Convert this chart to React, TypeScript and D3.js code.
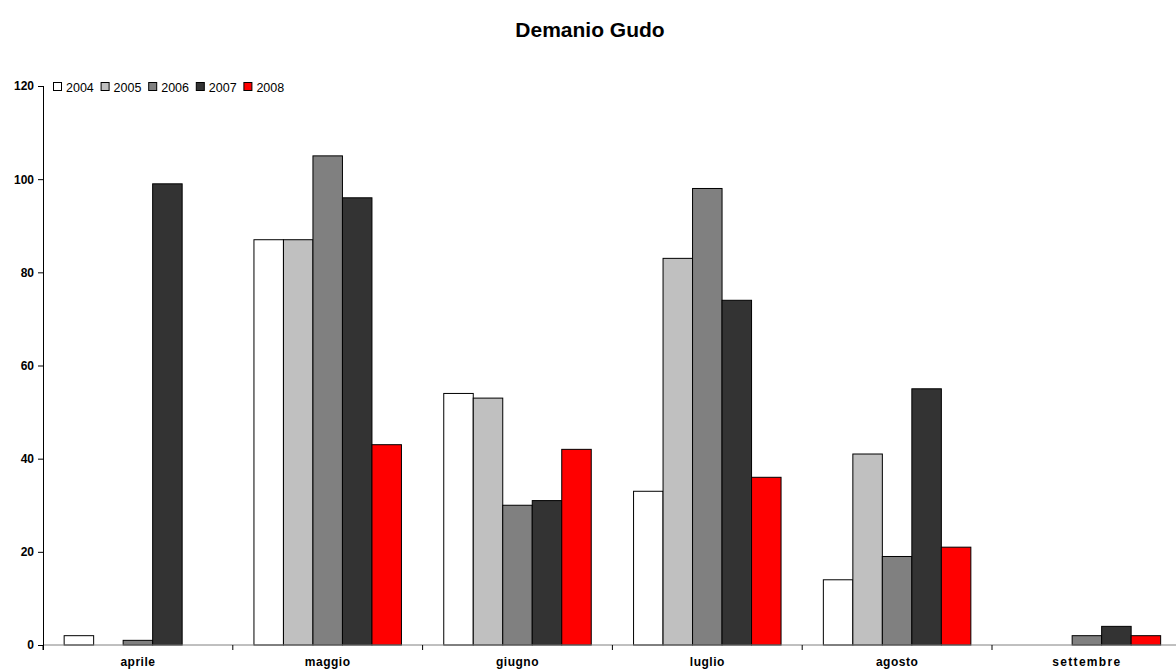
import React, { useEffect, useRef } from "react";
import * as d3 from "d3";

const categories = ["aprile", "maggio", "giugno", "luglio", "agosto", "settembre"];
const years = ["2004", "2005", "2006", "2007", "2008"];
const v2004 = [2, 87, 54, 33, 14, 0];
const v2005 = [0, 87, 53, 83, 41, 0];
const v2006 = [1, 105, 30, 98, 19, 2];
const v2007 = [99, 96, 31, 74, 55, 4];
const v2008 = [0, 43, 42, 36, 21, 2];
const yTicks = [0, 20, 40, 60, 80, 100, 120];
const colors = ["#FFFFFF", "#C0C0C0", "#808080", "#333333", "#FF0000"];

const series = [v2004, v2005, v2006, v2007, v2008];

export default function App() {
  const ref = useRef<SVGSVGElement>(null);
  useEffect(() => {
    const svg = d3.select(ref.current);
    svg.selectAll("*").remove();
    const left = 43, top = 86, bottom = 645;
    const catW = 189.8;
    const x0 = d3.scaleBand<string>().domain(categories).range([left, left + catW * 6]).padding(0);
    const x1 = d3.scaleBand<string>().domain(years).range([0, x0.bandwidth()]).paddingInner(0).paddingOuter(0.717);
    const y = d3.scaleLinear().domain([0, 120]).range([bottom, top]);
    const font = "Arial, 'Liberation Sans', sans-serif";

    svg.append("text").attr("x", 590).attr("y", 37).attr("text-anchor", "middle")
      .attr("font-family", font).attr("font-weight", "bold").attr("font-size", 21).text("Demanio Gudo");

    // bars
    categories.forEach((c, ci) => {
      years.forEach((yr, si) => {
        const v = series[si][ci];
        if (v <= 0) return;
        svg.append("rect")
          .attr("x", x0(c)! + x1(yr)!)
          .attr("y", y(v))
          .attr("width", x1.bandwidth())
          .attr("height", y(0) - y(v))
          .attr("fill", colors[si])
          .attr("stroke", "#000")
          .attr("stroke-width", 1);
      });
    });

    // y axis
    const yAxis = d3.axisLeft(y).tickValues(yTicks).tickSize(5).tickPadding(4);
    const gy = svg.append("g").attr("transform", `translate(${left},0)`).call(yAxis);
    gy.select(".domain").attr("stroke", "#000");
    gy.selectAll("text").attr("font-family", font).attr("font-weight", "bold").attr("font-size", 12).attr("fill", "#000");

    // x axis
    const gx = svg.append("g").attr("transform", `translate(0,${bottom})`);
    gx.append("line").attr("x1", left).attr("x2", left + catW * 6).attr("y1", 0).attr("y2", 0).attr("stroke", "#808080");
    d3.range(7).forEach((i) => {
      const xx = left + catW * i;
      gx.append("line").attr("x1", xx).attr("x2", xx).attr("y1", 0).attr("y2", 5).attr("stroke", "#000");
    });
    categories.forEach((c) => {
      gx.append("text").attr("x", x0(c)! + x0.bandwidth() / 2).attr("y", 21).attr("text-anchor", "middle")
        .attr("font-family", font).attr("font-weight", "bold").attr("font-size", 12)
        .attr("letter-spacing", c === "settembre" ? 1.3 : 0.5).text(c);
    });
    svg.append("line").attr("x1", left + 0.5).attr("x2", left + 0.5).attr("y1", top).attr("y2", bottom + 5).attr("stroke", "#000");

    // legend
    const lg = svg.append("g").attr("transform", `translate(53,87)`);
    years.forEach((yr, i) => {
      const g = lg.append("g").attr("transform", `translate(${i * 47.6},0)`);
      g.append("rect").attr("x", 0.5).attr("y", -4.5).attr("width", 8).attr("height", 8)
        .attr("fill", colors[i]).attr("stroke", "#000").attr("stroke-width", 1);
      g.append("text").attr("x", 13).attr("y", 4.5).attr("font-family", font).attr("font-size", 12.5).text(yr);
    });
  }, []);
  return (
    <svg ref={ref} width={1176} height={671} style={{ position: "absolute", left: 0, top: 0, background: "#fff" }} />
  );
}
